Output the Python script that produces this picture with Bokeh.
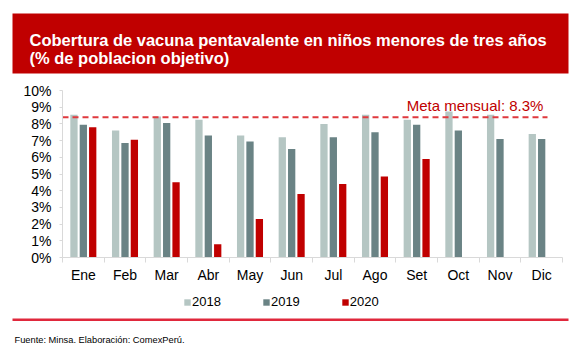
from bokeh.plotting import figure
from bokeh.models import (ColumnDataSource, FixedTicker, Legend, LegendItem, Label, Range1d,
                          BoxAnnotation)
from bokeh.transform import dodge
from bokeh.embed import file_html
from bokeh.resources import INLINE

MONTHS = ["Ene", "Feb", "Mar", "Abr", "May", "Jun", "Jul", "Ago", "Set", "Oct", "Nov", "Dic"]
Y2018 = [8.55, 7.6, 8.45, 8.25, 7.3, 7.2, 8.0, 8.55, 8.25, 8.75, 8.55, 7.4]
Y2019 = [7.95, 6.85, 8.05, 7.3, 6.95, 6.5, 7.2, 7.5, 7.95, 7.6, 7.1, 7.1]
Y2020 = [7.8, 7.05, 4.5, 0.8, 2.3, 3.8, 4.4, 4.85, 5.9]
SERIES = ["2018", "2019", "2020"]
META = 8.4
YTICKS = list(range(0, 11))
TITLE1 = "Cobertura de vacuna pentavalente en niños menores de tres años"
TITLE2 = "(% de poblacion objetivo)"
SOURCE = "Fuente: Minsa. Elaboración: ComexPerú."
META_TEXT = "Meta mensual: 8.3%"

FONT = "Liberation Sans"
C18, C19, C20 = "#b5c6c3", "#6a8385", "#c00000"

WIDTH, HEIGHT = 580, 351
# plot area in canvas pixels
PL, PR, PT, PB = 62, 562, 90, 257
NX, YMAX = len(MONTHS), 10
sx = (PR - PL) / NX
sy = (PB - PT) / YMAX
x_range = Range1d(-PL / sx, NX + (WIDTH - PR) / sx)
y_range = Range1d(-(HEIGHT - PB) / sy, YMAX + PT / sy)

pos = [i + 0.5 for i in range(NX)]
src_a = ColumnDataSource(dict(x=pos, y18=Y2018, y19=Y2019))
src_b = ColumnDataSource(dict(x=pos[:len(Y2020)], y20=Y2020))

p = figure(width=WIDTH, height=HEIGHT, output_backend="svg", toolbar_location=None,
           x_range=x_range, y_range=y_range, min_border=0)
p.outline_line_color = None
p.grid.visible = False

W = 0.175
r18 = p.vbar(x=dodge("x", -0.225), top="y18", width=W, source=src_a, color=C18, line_color=None)
r19 = p.vbar(x=dodge("x", 0.0), top="y19", width=W, source=src_a, color=C19, line_color=None)
r20 = p.vbar(x=dodge("x", 0.225), top="y20", width=W, source=src_b, color=C20, line_color=None)

p.segment(x0=[0], x1=[11.64], y0=[META], y1=[META], line_color="#e0393e",
          line_width=2, line_dash="6 4")
p.add_layout(Label(x=8.26, y=9.1, text=META_TEXT, text_font=FONT, text_font_size="15px",
                   text_color="#c00000", text_baseline="alphabetic", text_align="left"))

xa = p.xaxis[0]
xa.fixed_location = 0
xa.bounds = (0, NX)
xa.ticker = FixedTicker(ticks=pos, minor_ticks=list(range(NX + 1)))
xa.major_label_overrides = {x: m for x, m in zip(pos, MONTHS)}
xa.major_tick_line_color = None
xa.major_tick_out = 0
xa.major_tick_in = 0
xa.minor_tick_line_color = "#d9d9d9"
xa.minor_tick_out = 5
xa.minor_tick_in = 0
xa.axis_line_color = "#d9d9d9"
xa.major_label_text_font = FONT
xa.major_label_text_font_size = "14px"
xa.major_label_text_color = "black"
xa.major_label_standoff = 4

ya = p.yaxis[0]
ya.fixed_location = 0
ya.bounds = (0, YMAX)
ya.ticker = FixedTicker(ticks=YTICKS, minor_ticks=[])
ya.major_label_overrides = {t: f"{t}%" for t in YTICKS}
ya.major_tick_line_color = "#d9d9d9"
ya.major_tick_out = 3
ya.major_tick_in = 0
ya.minor_tick_line_color = None
ya.axis_line_color = "#d9d9d9"
ya.major_label_text_font = FONT
ya.major_label_text_font_size = "14px"
ya.major_label_text_color = "black"
ya.major_label_standoff = 8

legend = Legend(items=[LegendItem(label=s, renderers=[r]) for s, r in zip(SERIES, [r18, r19, r20])],
                orientation="horizontal", location=(183, 42),
                glyph_width=8, glyph_height=8, label_height=8, label_standoff=1,
                spacing=41, padding=0, margin=0, border_line_color=None,
                background_fill_alpha=0, label_text_font=FONT,
                label_text_font_size="13px", label_text_color="black")
p.add_layout(legend)


def cy(y):
    """canvas row (from top) -> screen units (from bottom)"""
    return HEIGHT - y


p.add_layout(BoxAnnotation(left=12, right=568, top=cy(13), bottom=cy(73),
                           left_units="screen", right_units="screen",
                           top_units="screen", bottom_units="screen",
                           fill_color="#c00000", fill_alpha=1, line_color=None, level="underlay"))
for txt, yb in [(TITLE1, 39.5), (TITLE2, 57)]:
    p.add_layout(Label(x=29, y=cy(yb), x_units="screen", y_units="screen", text=txt,
                       text_font=FONT, text_font_size="16.5px", text_font_style="bold",
                       text_color="white", text_baseline="alphabetic"))

p.add_layout(BoxAnnotation(left=12, right=568, top=cy(318), bottom=cy(320.5),
                           left_units="screen", right_units="screen",
                           top_units="screen", bottom_units="screen",
                           fill_color="#e0283c", fill_alpha=1, line_color=None))
p.add_layout(Label(x=14, y=cy(339), x_units="screen", y_units="screen", text=SOURCE,
                   text_font=FONT, text_font_size="9.3px",
                   text_color="black", text_baseline="alphabetic"))

open("out.html", "w").write(file_html(p, INLINE))
